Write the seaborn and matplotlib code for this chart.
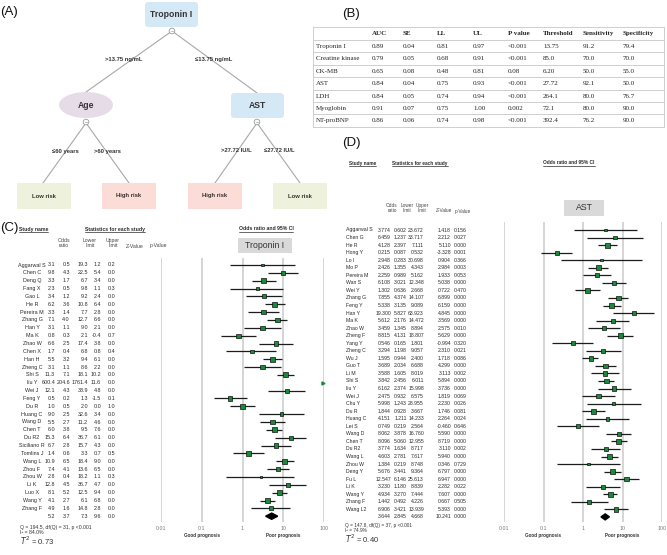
import numpy as np
import pandas as pd
import matplotlib.pyplot as plt
from matplotlib.patches import FancyBboxPatch, Ellipse, Circle, Rectangle
import seaborn as sns

sns.set_theme(style="white")
plt.rcParams["font.family"] = ["Liberation Sans", "DejaVu Sans"]

W, H = 667, 555

# ---- (B) diagnostic table ----
table_header = ["AUC", "SE", "LL", "UL", "P value", "Threshold", "Sensitivity", "Specificity"]
table_rows = ["Troponin I", "Creatine kinase", "CK-MB", "AST", "LDH", "Myoglobin", "NT-proBNP"]
auc = ["0.89", "0.79", "0.65", "0.84", "0.84", "0.91", "0.86"]
se = ["0.04", "0.05", "0.08", "0.04", "0.05", "0.07", "0.06"]
ll = ["0.81", "0.68", "0.48", "0.75", "0.74", "0.75", "0.74"]
ul = ["0.97", "0.91", "0.81", "0.93", "0.94", "1.00", "0.98"]
pval = ["<0.001", "<0.001", "0.08", "<0.001", "<0.001", "0.002", "<0.001"]
threshold = ["13.75", "85.0", "6.20", "27.72", "264.1", "72.1", "392.4"]
sensitivity = ["91.2", "70.0", "50.0", "92.1", "80.0", "80.0", "76.2"]
specificity = ["79.4", "70.0", "55.0", "50.0", "76.7", "90.0", "90.0"]

# ---- (C) Troponin I forest ----
trop_names = ["Aggarwal S", "Chen C", "Deng Q", "Fang X", "Gao L", "He R", "Pereira M", "Zhang G",
              "Han Y", "Ma K", "Zhao W", "Chen X", "Han H", "Zheng C", "Shi S", "liu Y", "Wei J",
              "Feng Y", "Du R", "Huang C", "Wang D", "Chen T", "Du R2", "Siciliano R", "Tomlins J",
              "Wang L", "Zhou F", "Zhou W", "Li K", "Luo X", "Wang Y", "Zhang F"]
trop_or = [3.1, 9.8, 3.3, 2.3, 3.4, 6.2, 3.3, 7.1, 3.1, 0.8, 6.6, 1.7, 5.5, 3.1, 11.3, 600.4, 12.1,
           0.5, 1.0, 9.0, 5.5, 6.0, 15.3, 6.7, 1.4, 10.9, 7.4, 2.8, 12.8, 8.1, 4.1, 4.9]
trop_lo = [0.5, 4.3, 1.7, 0.5, 1.2, 3.6, 1.4, 4.0, 1.1, 0.3, 2.5, 0.4, 3.2, 1.1, 7.1, 204.6, 4.3,
           0.2, 0.5, 2.5, 2.7, 3.8, 6.4, 2.8, 0.6, 6.5, 4.1, 0.4, 4.5, 5.2, 2.7, 1.6]
trop_hi = [19.3, 22.5, 6.7, 9.8, 9.2, 10.8, 7.7, 12.7, 9.0, 2.1, 17.4, 6.8, 9.4, 8.6, 18.1, 1761.4,
           33.9, 1.3, 2.0, 32.6, 11.2, 9.5, 36.7, 15.7, 3.3, 18.4, 13.6, 18.2, 36.7, 12.5, 6.1, 14.8]
trop_z = [1.2, 5.4, 3.4, 1.1, 2.4, 6.4, 2.8, 6.6, 2.1, -0.4, 3.8, 0.8, 6.1, 2.2, 10.2, 11.6, 4.8,
          -1.5, 0.0, 3.4, 4.6, 7.6, 6.1, 4.3, 0.7, 9.0, 6.5, 1.1, 4.7, 9.4, 6.8, 2.8]
trop_p = [0.2, 0.0, 0.0, 0.3, 0.0, 0.0, 0.0, 0.0, 0.0, 0.7, 0.0, 0.4, 0.0, 0.0, 0.0, 0.0, 0.0,
          0.1, 1.0, 0.0, 0.0, 0.0, 0.0, 0.0, 0.5, 0.0, 0.0, 0.3, 0.0, 0.0, 0.0, 0.0]
trop_pooled = [5.2, 3.7, 7.3, 9.6, 0.0]
trop_het = ["Q = 194.5, df(Q) = 31, p <0.001", "I\u00b2 = 84.0%", "0.73"]
trop_tau2 = 0.73

# ---- (D) AST forest ----
ast_names = ["Aggarwal S", "Chen G", "He R", "Hong Y", "Lo I", "Mo P", "Pereira M", "Wan S", "Wei Y",
             "Zhang G", "Feng Y", "Han Y", "Ma K", "Zhao W", "Zheng F", "Yang Y", "Zheng C", "Wu J",
             "Guo T", "Li M", "Shi S", "liu Y", "Wei J", "Chu Y", "Du R", "Huang C", "Lei S",
             "Wang D", "Chen T", "Du R2", "Wang L", "Zhou W", "Deng Y", "Fu L", "Li K", "Wang Y",
             "Zhang F", "Wang L2"]
ast_or = [3.774, 6.459, 4.128, 0.215, 2.948, 2.426, 2.259, 6.108, 1.302, 7.855, 5.338, 19.300, 5.612,
          3.459, 8.815, 0.546, 3.294, 1.595, 3.689, 3.588, 3.842, 6.162, 2.475, 5.998, 1.844, 4.151,
          0.749, 8.062, 8.096, 3.774, 4.603, 1.384, 5.676, 12.547, 3.230, 4.934, 1.442, 6.906]
ast_lo = [0.602, 1.237, 2.397, 0.087, 0.283, 1.355, 0.989, 3.021, 0.636, 4.374, 3.135, 5.827, 2.176,
          1.345, 4.131, 0.165, 1.198, 0.944, 2.034, 1.605, 2.456, 2.374, 0.932, 1.243, 0.928, 1.211,
          0.219, 3.878, 5.060, 1.634, 2.781, 0.219, 3.441, 6.146, 1.180, 3.270, 0.492, 3.421]
ast_hi = [23.672, 33.717, 7.111, 0.532, 30.698, 4.343, 5.162, 12.348, 2.668, 14.107, 9.089, 63.923,
          14.472, 8.894, 18.807, 1.801, 9.057, 2.400, 6.688, 8.019, 6.011, 15.998, 6.575, 28.955,
          3.667, 14.233, 2.564, 16.760, 12.955, 8.717, 7.617, 8.748, 9.364, 25.613, 8.839, 7.444,
          4.226, 13.939]
ast_z = [1.418, 2.212, 5.110, -3.328, 0.904, 2.984, 1.933, 5.038, 0.722, 6.899, 6.159, 4.845, 3.569,
         2.575, 5.629, -0.994, 2.310, 1.718, 4.299, 3.113, 5.894, 3.736, 1.819, 2.230, 1.746, 2.264,
         -0.460, 5.590, 8.719, 3.110, 5.940, 0.346, 6.797, 6.947, 2.282, 7.607, 0.667, 5.393]
ast_p = [0.156, 0.027, 0.000, 0.001, 0.366, 0.003, 0.053, 0.000, 0.470, 0.000, 0.000, 0.000, 0.000,
         0.010, 0.000, 0.320, 0.021, 0.086, 0.000, 0.002, 0.000, 0.000, 0.069, 0.026, 0.081, 0.024,
         0.646, 0.000, 0.000, 0.002, 0.000, 0.729, 0.000, 0.000, 0.022, 0.000, 0.505, 0.000]
ast_pooled = [3.644, 2.845, 4.668, 10.241, 0.000]
ast_het = ["Q = 147.8, df(Q) = 37, p <0.001", "I\u00b2 = 74.9%", "0.40"]
ast_tau2 = 0.40

GREEN = "#1a8a3a"
GRID = "#d2d2d2"
INK = "#2a2a2a"


def underline(fig, bg, txt):
    fig.canvas.draw()
    bb = txt.get_window_extent()
    y = H - bb.y0 + 0.8
    bg.plot([bb.x0, bb.x1], [y, y], color=INK, lw=0.5)


def draw_tree(bg):
    line_kw = dict(color="#a8a8a8", lw=0.8, zorder=1)
    lab_kw = dict(fontsize=4.2, fontweight="bold", ha="center", va="center", color="#333333")
    # edges
    bg.plot([172, 86], [31, 92], **line_kw)
    bg.plot([172, 257], [31, 93], **line_kw)
    bg.plot([86, 43], [123, 183], **line_kw)
    bg.plot([86, 129], [123, 183], **line_kw)
    bg.plot([257, 215], [123, 183], **line_kw)
    bg.plot([257, 300], [123, 183], **line_kw)
    bg.text(124, 60, ">13.75 ng/mL", **lab_kw)
    bg.text(214, 60, "\u226413.75 ng/mL", **lab_kw)
    bg.text(65, 151, "\u226460 years", **lab_kw)
    bg.text(107, 151, ">60 years", **lab_kw)
    bg.text(236, 151, ">27.72 IU/L", **lab_kw)
    bg.text(279, 151, "\u226427.72 IU/L", **lab_kw)
    # nodes
    for (x0, y0, x1, y1, txt) in [(145, 2, 198, 27, "Troponin I"), (231, 93, 284, 118, "AST")]:
        bg.add_patch(FancyBboxPatch((x0, y0), x1 - x0, y1 - y0,
                                    boxstyle="round,pad=0,rounding_size=3.5",
                                    fc="#d5e8f5", ec="none", zorder=2))
        bg.text((x0 + x1) / 2, (y0 + y1) / 2, txt, fontsize=6.2, fontweight="bold",
                ha="center", va="center", color="#333333", zorder=3)
    bg.add_patch(Ellipse((86, 105), 54, 26, fc="#e6dce8", ec="none", zorder=2))
    bg.text(86, 105, "Age", fontsize=6.2, fontweight="bold", ha="center", va="center",
            color="#333333", zorder=3)
    for cx, cy in [(172, 31), (86, 122), (257, 122)]:
        bg.add_patch(Circle((cx, cy), 2.8, fc="white", ec="#999999", lw=0.6, zorder=3))
        bg.plot([cx - 1.3, cx + 1.3], [cy, cy], color="#999999", lw=0.5, zorder=4)
    for x0, txt, col in [(17, "Low risk", "#eef1db"), (102, "High risk", "#fcdcd7"),
                         (188, "High risk", "#fcdcd7"), (273, "Low risk", "#eef1db")]:
        bg.add_patch(Rectangle((x0, 183), 54, 26, fc=col, ec="none", zorder=2))
        bg.text(x0 + 27, 196, txt, fontsize=4.2, fontweight="bold", ha="center", va="center",
                color="#333333", zorder=3)


def draw_table(bg):
    serif = ["Liberation Serif", "DejaVu Serif"]
    col_x = [372, 403, 437, 473, 508, 543, 583, 623]
    line_kw = dict(color="#c8c8c8", lw=0.6)
    ys = [27, 40] + [40 + 12.4 * (i + 1) for i in range(len(table_rows))]
    for y in ys:
        bg.plot([313, 664], [y, y], **line_kw)
    bg.plot([313, 313], [ys[0], ys[-1]], **line_kw)
    bg.plot([664, 664], [ys[0], ys[-1]], **line_kw)
    for x, h in zip(col_x, table_header):
        bg.text(x, 33.5, h, fontsize=5, fontweight="bold", family=serif, ha="left", va="center")
    cols = [auc, se, ll, ul, pval, threshold, sensitivity, specificity]
    for i, name in enumerate(table_rows):
        y = 40 + 12.4 * i + 6.4
        bg.text(316, y, name, fontsize=5, family=serif, ha="left", va="center")
        for x, c in zip(col_x, cols):
            bg.text(x, y, c[i], fontsize=5, family=serif, ha="left", va="center", color="#222222")


def draw_forest(fig, bg, df, pooled, tau2, cfg):
    x0, x1, y_top, y_bot = cfg["x0"], cfg["x1"], cfg["y_top"], cfg["y_bot"]
    row0, step, fs = cfg["row0"], cfg["step"], cfg["fs"]
    n = len(df)
    df = df.copy()
    df["row"] = np.arange(n)
    se_log = (np.log(df["hi"]) - np.log(df["lo"])) / 3.92
    df["w"] = 1 / (se_log ** 2 + tau2)

    ax = fig.add_axes([x0 / W, 1 - y_bot / H, (x1 - x0) / W, (y_bot - y_top) / H])
    ax.patch.set_alpha(0)
    ax.set_xscale("log")
    ax.set_xlim(0.01, 100)
    ax.set_ylim((y_bot - row0) / step, (y_top - row0) / step)
    ax.hlines(df["row"], df["lo"], df["hi"], color="#1c1c1c", lw=0.9, zorder=2)
    inside = df[df["odds"] < 100]
    sns.scatterplot(data=inside, x="odds", y="row", size="w", sizes=(3, 13),
                    size_norm=(df["w"].min(), df["w"].max()), marker="s", color=GREEN,
                    edgecolor="black", linewidth=0.45, legend=False, ax=ax, zorder=3)
    for r in df.loc[df["odds"] >= 100, "row"]:
        ax.plot(96, r, marker=">", color=GREEN, ms=2.2, clip_on=False, zorder=3)
    est, lo, hi = pooled[0], pooled[1], pooled[2]
    ax.fill([lo, est, hi, est], [n, n - 0.4, n, n + 0.4], color="black", zorder=3)
    ax.set_xticks([0.01, 0.1, 1, 10, 100])
    ax.set_xticklabels(["0.01", "0.1", "1", "10", "100"], fontsize=3.8, color="#777777")
    ax.minorticks_off()
    ax.tick_params(axis="x", length=0, pad=3)
    ax.set_yticks([])
    ax.set_xlabel("")
    ax.set_ylabel("")
    ax.xaxis.grid(True, color=GRID, lw=1.3)
    ax.set_axisbelow(True)
    for sp in ax.spines.values():
        sp.set_visible(False)

    def xpx(v):
        return x0 + (np.log10(v) + 2) / 4 * (x1 - x0)

    lab_y = y_bot + 14
    bg.text(xpx(0.1), lab_y, "Good prognosis", fontsize=3.3, fontweight="bold",
            ha="center", va="center", color="#333333")
    bg.text(xpx(10), lab_y, "Poor prognosis", fontsize=3.3, fontweight="bold",
            ha="center", va="center", color="#333333")

    # text columns
    fmt = cfg["fmt"]
    txt_kw = dict(fontsize=fs, va="center", color=INK)
    for i, row in df.iterrows():
        y = row0 + step * row["row"]
        bg.text(cfg["name_x"], y, row["name"], ha=cfg["name_ha"], **txt_kw)
        for key, x in zip(["odds", "lo", "hi", "z", "p"], cfg["val_x"]):
            bg.text(x, y, fmt.format(row[key]), ha="right", **txt_kw)
    y = row0 + step * n
    for v, x in zip(pooled, cfg["val_x"]):
        bg.text(x, y, fmt.format(v), ha="right", **txt_kw)

    # headers
    hy = cfg["head_y"]
    hfs = cfg["hfs"]
    head_kw = dict(fontsize=hfs, ha="center", va="center", color="#444444")
    for x, h in zip(cfg["head_x"][:3], ["Odds\nratio", "Lower\nlimit", "Upper\nlimit"]):
        bg.text(x, hy, h, linespacing=1.15, **head_kw)
    for x, h in zip(cfg["head_x"][3:], ["Z-Value", "p-Value"]):
        bg.text(x, hy + 3, h, **head_kw)
    sy = cfg["sec_y"]
    t1 = bg.text(cfg["sec_x"][0], sy, "Study name", fontsize=hfs, fontweight="bold",
                 ha="left", va="center", color=INK)
    t2 = bg.text(cfg["sec_x"][1], sy, "Statistics for each study", fontsize=hfs,
                 fontweight="bold", ha="center", va="center", color=INK)
    t3 = bg.text(cfg["sec_x"][2], sy, "Odds ratio and 95% CI", fontsize=hfs,
                 fontweight="bold", ha="center", va="center", color=INK)
    for t in (t1, t2, t3):
        underline(fig, bg, t)
    bx0, bx1, by0, by1 = cfg["box"]
    bg.add_patch(Rectangle((bx0, by0), bx1 - bx0, by1 - by0, fc="#d9d9d9", ec="none"))
    bg.text((bx0 + bx1) / 2, (by0 + by1) / 2, cfg["title"], fontsize=6.3, ha="center",
            va="center", color="#333333")

    # heterogeneity
    qx, qy = cfg["q_xy"]
    het = cfg["het"]
    bg.text(qx, qy, het[0], fontsize=hfs, ha="left", va="center", color="#333333")
    bg.text(qx, qy + 6, het[1], fontsize=hfs, ha="left", va="center", color="#333333")
    bg.text(qx, qy + 13.5, "$T^2$ = " + het[2], fontsize=5.5, ha="left", va="center",
            color="#333333")


def main():
    fig = plt.figure(figsize=(W / 100, H / 100), dpi=100)
    bg = fig.add_axes([0, 0, 1, 1])
    bg.set_xlim(0, W)
    bg.set_ylim(H, 0)
    bg.axis("off")

    for x, y, s in [(0, 12, "(A)"), (342, 14, "(B)"), (0, 228, "(C)"), (342, 143, "(D)")]:
        bg.text(x, y, s, fontsize=9.5, ha="left", va="center", color="#111111")

    draw_tree(bg)
    draw_table(bg)

    trop = pd.DataFrame({"name": trop_names, "odds": trop_or, "lo": trop_lo, "hi": trop_hi,
                         "z": trop_z, "p": trop_p})
    ast = pd.DataFrame({"name": ast_names, "odds": ast_or, "lo": ast_lo, "hi": ast_hi,
                        "z": ast_z, "p": ast_p})

    cfg_c = dict(x0=161, x1=324, y_top=258, y_bot=522, row0=265, step=7.85, fs=3.9, hfs=3.7,
                 fmt="{:.1f}", name_x=32, name_ha="center", val_x=[55, 70, 88, 101, 115],
                 head_x=[64, 90, 113, 135, 158], head_y=243, sec_y=229,
                 sec_x=[19, 115, 266], box=(238, 292, 238, 253), title="Troponin I",
                 q_xy=(20, 527), het=trop_het)
    cfg_d = dict(x0=504, x1=662, y_top=222, y_bot=522, row0=230, step=7.55, fs=3.7, hfs=3.4,
                 fmt="{:.3f}", name_x=346, name_ha="left", val_x=[391, 407, 424, 451, 467],
                 head_x=[392, 407, 422, 444, 463], head_y=208, sec_y=163,
                 sec_x=[349, 420, 569], box=(564, 604, 200, 216), title="AST",
                 q_xy=(345, 525), het=ast_het)

    draw_forest(fig, bg, trop, trop_pooled, trop_tau2, cfg_c)
    draw_forest(fig, bg, ast, ast_pooled, ast_tau2, cfg_d)

    fig.savefig("out.png", dpi=100)


if __name__ == "__main__":
    main()
